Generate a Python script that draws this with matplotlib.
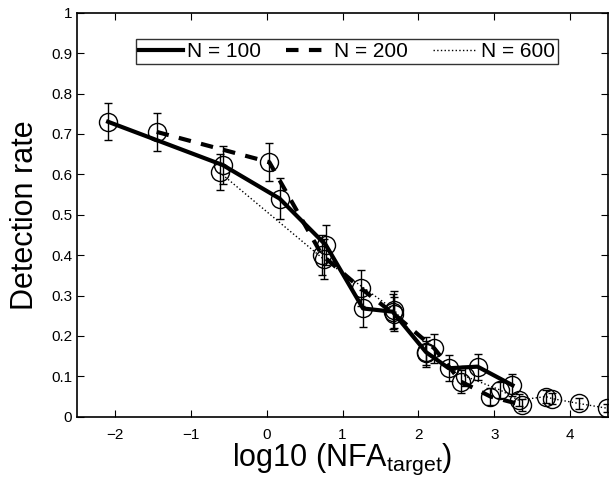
import numpy as np
import matplotlib
matplotlib.use('Agg')
import matplotlib.pyplot as plt

plt.rcParams['font.family'] = ['Liberation Sans', 'DejaVu Sans']

# N = 100
x100 = [-2.09, -0.58, 0.17, 0.78, 1.27, 1.66, 2.10, 2.40, 2.78, 3.24]
y100 = [0.730, 0.623, 0.540, 0.425, 0.268, 0.260, 0.160, 0.120, 0.124, 0.078]
e100 = [0.046, 0.048, 0.050, 0.050, 0.045, 0.044, 0.037, 0.032, 0.032, 0.027]

# N = 200
x200 = [-1.45, 0.035, 0.73, 1.24, 1.68, 2.21, 2.56, 2.95, 3.37]
y200 = [0.705, 0.630, 0.400, 0.318, 0.254, 0.169, 0.087, 0.050, 0.029]
e200 = [0.047, 0.047, 0.050, 0.045, 0.043, 0.037, 0.028, 0.020, 0.015]

# N = 600
x600 = [-0.62, 0.75, 1.68, 2.10, 2.62, 3.08, 3.32, 3.68, 3.76, 4.11, 4.49]
y600 = [0.605, 0.390, 0.265, 0.157, 0.100, 0.066, 0.041, 0.050, 0.045, 0.033, 0.021]
e600 = [0.045, 0.050, 0.045, 0.030, 0.025, 0.020, 0.015, 0.015, 0.014, 0.013, 0.010]

fig = plt.figure(figsize=(6.13, 4.88), dpi=100)
ax = fig.add_axes([0.1256, 0.146, 0.8664, 0.828])

ax.plot(x600, y600, color='black', linestyle=':', linewidth=1, label='N = 600', zorder=2)
ax.plot(x200, y200, color='black', linestyle=(0, (3, 2.5)), linewidth=3, label='N = 200', zorder=3)
ax.plot(x100, y100, color='black', linestyle='-', linewidth=3, label='N = 100', zorder=4)

for xs, ys, es in [(x100, y100, e100), (x200, y200, e200), (x600, y600, e600)]:
    ax.errorbar(xs, ys, yerr=es, fmt='o', markersize=13, markerfacecolor='none',
                markeredgecolor='black', markeredgewidth=1, ecolor='black',
                elinewidth=1, capsize=3.2, capthick=1, zorder=5)

ax.set_xlim(-2.5, 4.5)
ax.set_ylim(0, 1)
ax.set_xticks([-2, -1, 0, 1, 2, 3, 4])
ax.set_yticks(np.arange(0, 1.01, 0.1))
ax.set_yticklabels(['0', '0.1', '0.2', '0.3', '0.4', '0.5', '0.6', '0.7', '0.8', '0.9', '1'])
ax.tick_params(direction='in', top=True, right=True, labelsize=11, length=5)
ax.tick_params(axis='x', pad=8)
for s in ax.spines.values():
    s.set_linewidth(1.2)

ax.set_xlabel('log10 (NFA$_{\\mathregular{target}}$)', fontsize=22)
ax.set_ylabel('Detection rate', fontsize=22)
ax.xaxis.set_label_coords(0.5, -0.062)
ax.yaxis.set_label_coords(-0.069, 0.5)

handles, labels = ax.get_legend_handles_labels()
leg = ax.legend(handles[::-1], labels[::-1], loc='upper center', bbox_to_anchor=(0.508, 0.935),
                ncol=3, fontsize=15, frameon=True, fancybox=False, edgecolor='black',
                handlelength=2.1, handletextpad=0.2, columnspacing=1.2, borderaxespad=0,
                borderpad=0.15)
leg.get_frame().set_linewidth(1)

fig.savefig('out.png', dpi=100)
